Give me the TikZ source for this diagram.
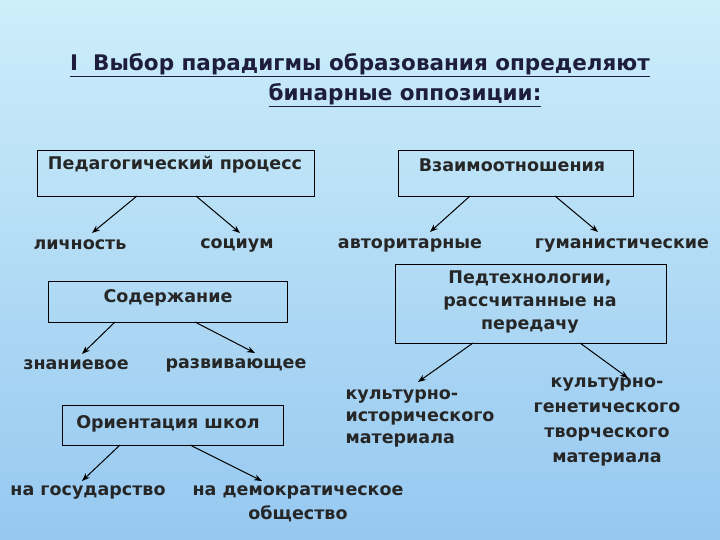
\documentclass[tikz,border=0pt]{standalone}
\usepackage{fontspec}
\usetikzlibrary{arrows.meta}
\setmainfont{DejaVu Sans}
\begin{document}
\begin{tikzpicture}[x=1pt,y=-1pt,
  bx/.style={draw=black,line width=0.8pt,fill=none},
  lbl/.style={font=\bfseries\fontsize{17.5}{22}\selectfont,text=black!85,align=center,inner sep=0pt},
  ar/.style={-{Stealth[length=8pt,width=6pt]},line width=1pt}]
\shade[top color={rgb,255:red,205;green,238;blue,250},bottom color={rgb,255:red,150;green,200;blue,240}] (0,0) rectangle (720,540);
\useasboundingbox (0,0) rectangle (720,540);
\tikzset{tt/.style={lbl,font=\bfseries\fontsize{21.5}{26}\selectfont,text={rgb,255:red,30;green,30;blue,60}}}
\node[tt] (title) at (360,65) {\underline{I\ \ Выбор парадигмы образования определяют}};
\node[tt] (title2) at (405,95) {\underline{бинарные оппозиции:}};
\draw[bx] (37,150) rectangle (314,196);
\node[lbl] (ped) at (175,165) {Педагогический процесс};
\draw[bx] (398,150) rectangle (633,196);
\node[lbl] (vz) at (512,165) {Взаимоотношения};
\draw[bx] (48,281) rectangle (287,322);
\node[lbl] (sod) at (168,298) {Содержание};
\draw[bx] (395,264) rectangle (666,343);
\node[lbl,font=\bfseries\fontsize{17.5}{23}\selectfont] (pt) at (530,302) {Педтехнологии,\\рассчитанные на\\передачу};
\draw[bx] (62,405) rectangle (283,445);
\node[lbl] (or) at (168,424) {Ориентация школ};
\node[lbl] (li) at (80,245) {личность};
\node[lbl] (so) at (237,245) {социум};
\node[lbl] (av) at (410,245) {авторитарные};
\node[lbl] (gu) at (622,245) {гуманистические};
\node[lbl] (zn) at (76,365) {знаниевое};
\node[lbl] (ra) at (236,365) {развивающее};
\node[lbl,align=left,font=\bfseries\fontsize{17.5}{22}\selectfont] (ki) at (420,418) {культурно-\\исторического\\материала};
\node[lbl,font=\bfseries\fontsize{17.5}{25}\selectfont] (kg) at (607,422) {культурно-\\генетического\\творческого\\материала};
\node[lbl] (go) at (88,492) {на государство};
\node[lbl,font=\bfseries\fontsize{17.5}{24}\selectfont] (de) at (298,504) {на демократическое\\общество};
\coordinate (a1) at (137,196); \coordinate (a2) at (196,196);
\coordinate (b1) at (470,196); \coordinate (b2) at (555,196);
\coordinate (c1) at (115,322); \coordinate (c2) at (195,322);
\coordinate (d1) at (473,343); \coordinate (d2) at (580,343);
\coordinate (e1) at (120,445); \coordinate (e2) at (190,445);
\draw[ar] (a1) -- (92,233);
\draw[ar] (a2) -- (240,233);
\draw[ar] (b1) -- (430,232);
\draw[ar] (b2) -- (598,232);
\draw[ar] (c1) -- (82,354);
\draw[ar] (c2) -- (255,353);
\draw[ar] (d1) -- (418,382);
\draw[ar] (d2) -- (628,378);
\draw[ar] (e1) -- (82,481);
\draw[ar] (e2) -- (262,481);
\end{tikzpicture}
\end{document}
